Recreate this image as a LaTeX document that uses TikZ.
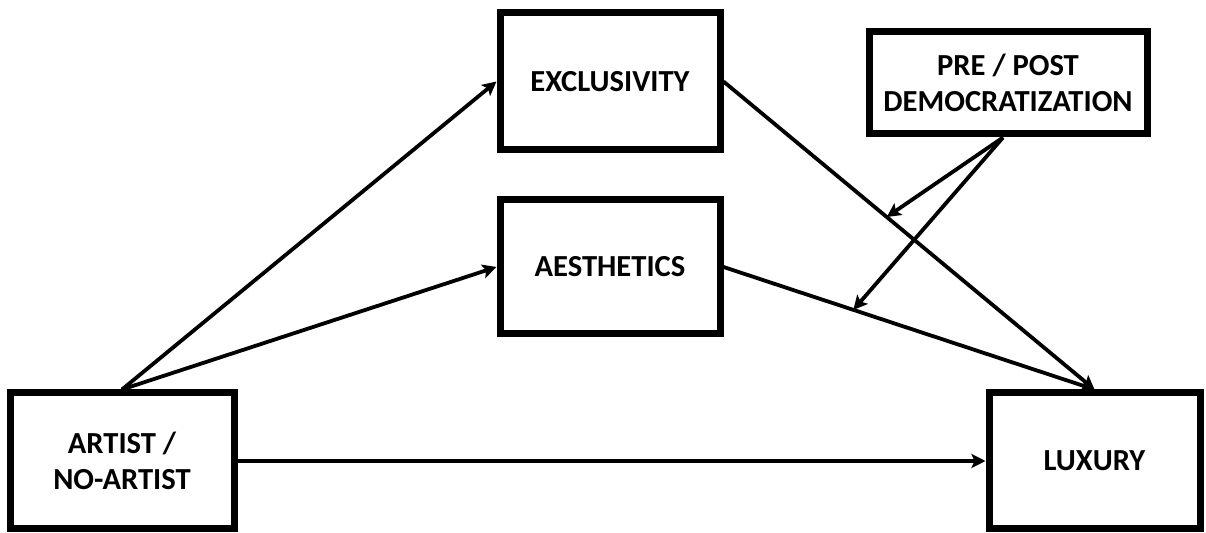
\documentclass[tikz,border=0pt]{standalone}
\usepackage{fontspec}
\setmainfont{Carlito}
\usetikzlibrary{arrows.meta,calc}
\tikzset{
  box/.style={draw=black, line width=3.5pt, fill=white, align=center, font=\bfseries\fontsize{15.3}{18}\selectfont, inner sep=0pt},
  conn/.style={line width=1.9pt, -{Stealth[length=7pt,width=7pt,inset=1.5pt]}},
}
\begin{document}
\begin{tikzpicture}[x=0.5pt,y=-0.5pt]
\useasboundingbox (0,0) rectangle (1206,533);
\node[box, minimum width=110pt, minimum height=68.5pt] (excl) at (610,81.5) {EXCLUSIVITY};
\node[box, minimum width=110pt, minimum height=67pt] (aest) at (610,267) {AESTHETICS};
\node[box, minimum width=139pt, minimum height=51pt] (pre) at (1008,83) {PRE / POST\\DEMOCRATIZATION};
\node[box, minimum width=112pt, minimum height=68pt] (art) at (122,461) {ARTIST /\\NO-ARTIST};
\node[box, minimum width=105.5pt, minimum height=68pt] (lux) at (1094.5,461) {LUXURY};
\coordinate (m1) at ($(excl.east)!0.44!(lux.north)$);
\coordinate (m2) at ($(aest.east)!0.35!(lux.north)$);
\coordinate (src) at ($(pre.south)+(-5,0)$);
\draw[conn] (art.north) -- (excl.west);
\draw[conn] (art.north) -- (aest.west);
\draw[conn] (art.east) -- (lux.west);
\draw[conn] (excl.east) -- (lux.north);
\draw[conn] (aest.east) -- (lux.north);
\draw[conn] (src) -- (m1);
\draw[conn] (src) -- (m2);
\end{tikzpicture}
\end{document}
